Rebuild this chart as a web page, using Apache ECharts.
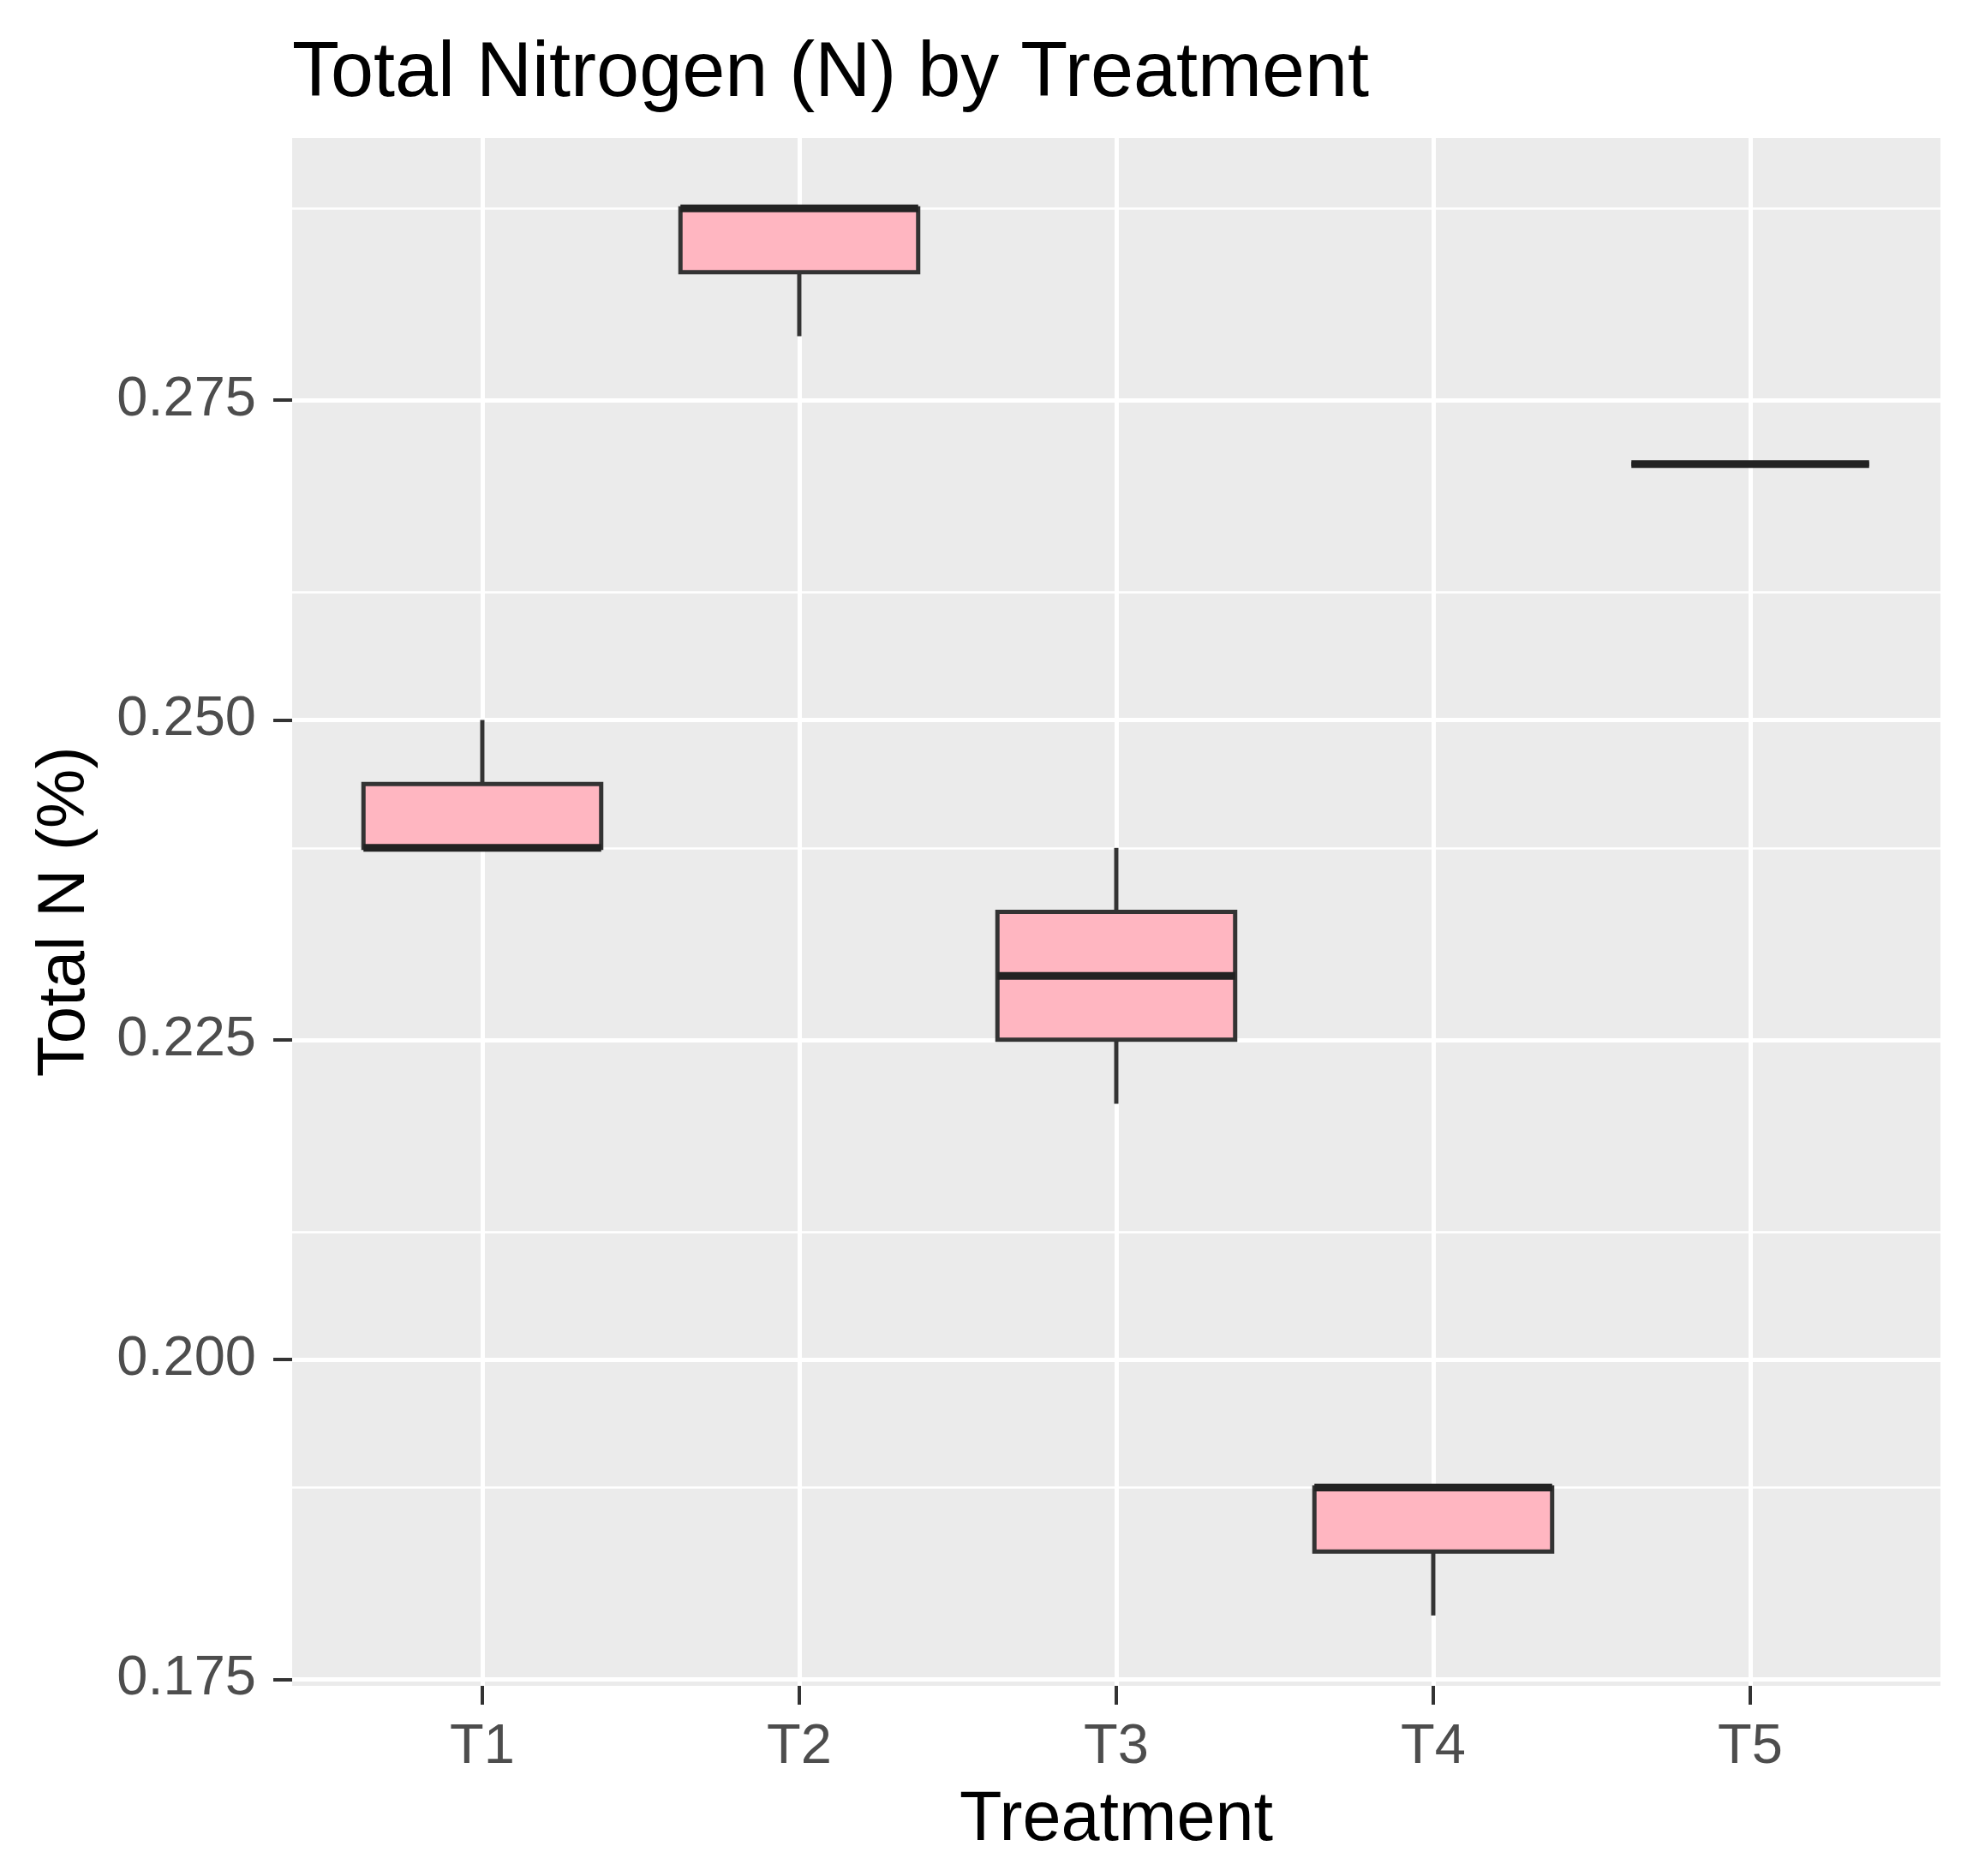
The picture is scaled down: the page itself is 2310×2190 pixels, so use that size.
<!DOCTYPE html>
<html>
<head>
<meta charset="utf-8">
<style>
  html, body { margin: 0; padding: 0; background: #ffffff; }
  #chart { width: 2310px; height: 2190px; }
</style>
<script src="https://cdn.jsdelivr.net/npm/echarts@6/dist/echarts.min.js"></script>
</head>
<body>
<div id="chart"></div>
<script>
// ---- data ----
const categories   = ['T1', 'T2', 'T3', 'T4', 'T5'];
const whiskerLow   = [0.240, 0.280, 0.220, 0.180, 0.270];
const q1Values     = [0.240, 0.285, 0.225, 0.185, 0.270];
const medianValues = [0.240, 0.290, 0.230, 0.190, 0.270];
const q3Values     = [0.245, 0.290, 0.235, 0.190, 0.270];
const whiskerHigh  = [0.250, 0.290, 0.240, 0.190, 0.270];
const yTickValues  = [0.175, 0.200, 0.225, 0.250, 0.275];
const yMinorValues = [0.1875, 0.2125, 0.2375, 0.2625, 0.2875];
const xPositions   = [1, 2, 3, 4, 5];

const FONT = 'Liberation Sans, Arial, sans-serif';
const BOX_UNITS = 0.75;

const boxData = categories.map((c, i) => [
  xPositions[i], whiskerLow[i], q1Values[i], medianValues[i], q3Values[i], whiskerHigh[i]
]);

const chart = echarts.init(document.getElementById('chart'), null, { renderer: 'canvas' });

chart.setOption({
  animation: false,
  backgroundColor: '#ffffff',
  title: {
    text: 'Total Nitrogen (N) by Treatment',
    left: 336,
    top: 37,
    textStyle: { fontFamily: FONT, fontSize: 90, fontWeight: 'normal', color: '#000000' }
  },
  grid: {
    left: 341, right: 45, top: 161, bottom: 222,
    show: true, backgroundColor: '#EBEBEB', borderWidth: 0
  },
  xAxis: {
    type: 'value',
    min: 0.4, max: 5.6,
    axisLine: { show: false },
    axisTick: { show: true, customValues: xPositions, length: 22, lineStyle: { color: '#333333', width: 4 } },
    axisLabel: {
      customValues: xPositions,
      formatter: v => categories[Math.round(v) - 1],
      fontFamily: FONT, fontSize: 65, color: '#4D4D4D', margin: 40
    },
    splitLine: { show: true, lineStyle: { color: '#ffffff', width: 5 } },
    name: 'Treatment',
    nameLocation: 'middle',
    nameGap: 117,
    nameTextStyle: { fontFamily: FONT, fontSize: 81, color: '#000000' }
  },
  yAxis: {
    type: 'value',
    min: 0.1745, max: 0.2955,
    axisLine: { show: false },
    axisTick: { show: true, customValues: yTickValues, length: 22, lineStyle: { color: '#333333', width: 4 } },
    axisLabel: {
      customValues: yTickValues,
      formatter: v => v.toFixed(3),
      fontFamily: FONT, fontSize: 65, color: '#4D4D4D', margin: 42
    },
    splitLine: { show: true, lineStyle: { color: '#ffffff', width: 5 } },
    name: 'Total N (%)',
    nameLocation: 'middle',
    nameRotate: 90,
    nameGap: 226,
    nameTextStyle: { fontFamily: FONT, fontSize: 78, color: '#000000' }
  },
  series: [
    {
      type: 'line',
      data: [],
      silent: true,
      markLine: {
        silent: true,
        symbol: 'none',
        label: { show: false },
        lineStyle: { color: '#ffffff', width: 2.5, type: 'solid' },
        emphasis: { disabled: true },
        data: yMinorValues.map(v => ({ yAxis: v }))
      }
    },
    {
      type: 'custom',
      z: 10,
      encode: { x: 0, y: [1, 2, 3, 4, 5] },
      data: boxData,
      renderItem: function (params, api) {
        const x = api.value(0);
        const lo = api.value(1), q1 = api.value(2), med = api.value(3), q3 = api.value(4), hi = api.value(5);
        const half = api.size([BOX_UNITS, 0], [x, med])[0] / 2;
        const pLo = api.coord([x, lo]);
        const pQ1 = api.coord([x, q1]);
        const pMed = api.coord([x, med]);
        const pQ3 = api.coord([x, q3]);
        const pHi = api.coord([x, hi]);
        const stroke = '#333333';
        return {
          type: 'group',
          children: [
            { type: 'line', shape: { x1: pQ3[0], y1: pQ3[1], x2: pHi[0], y2: pHi[1] }, style: { stroke: stroke, lineWidth: 5 } },
            { type: 'line', shape: { x1: pLo[0], y1: pLo[1], x2: pQ1[0], y2: pQ1[1] }, style: { stroke: stroke, lineWidth: 5 } },
            { type: 'rect', shape: { x: pQ1[0] - half, y: pQ3[1], width: 2 * half, height: pQ1[1] - pQ3[1] },
              style: { fill: '#FFB6C1', stroke: stroke, lineWidth: 5 } },
            { type: 'line', shape: { x1: pMed[0] - half, y1: pMed[1], x2: pMed[0] + half, y2: pMed[1] },
              style: { stroke: '#222222', lineWidth: 9 } }
          ]
        };
      }
    }
  ]
});
</script>
</body>
</html>
